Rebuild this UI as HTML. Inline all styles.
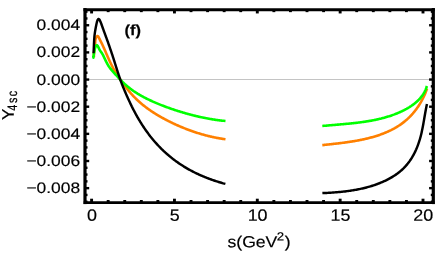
<!DOCTYPE html>
<html><head><meta charset="utf-8"><title>plot</title>
<style>
html,body{margin:0;padding:0;background:#fff;}
body{width:436px;height:262px;overflow:hidden;}
svg{display:block;will-change:transform;}
text{font-family:"Liberation Sans",sans-serif;fill:#000;stroke:#000;stroke-width:0.18px;}
</style></head><body>
<svg width="436" height="262" viewBox="0 0 436 262">
<rect width="436" height="262" fill="#fff"/>
<line x1="85.0" y1="79.5" x2="433.3" y2="79.5" stroke="#c4c4c4" stroke-width="1"/>
<g fill="none" stroke-width="2.6" stroke-linecap="square" stroke-linejoin="round">
<path stroke="#ff8000" d="M93.90,56.00 L93.90,55.28 L93.92,54.55 L93.96,53.81 L94.02,53.07 L94.10,52.32 L94.19,51.57 L94.29,50.81 L94.39,50.06 L94.50,49.30 L94.61,48.54 L94.72,47.79 L94.82,47.04 L94.92,46.29 L95.01,45.55 L95.08,44.81 L95.14,44.09 L95.19,43.37 L95.21,42.66 L95.22,41.96 L95.24,41.26 L95.29,40.54 L95.39,39.80 L95.57,39.02 L95.84,38.20 L96.22,37.35 L96.66,36.62 L97.15,36.12 L97.64,36.02 L98.10,36.34 L98.55,36.97 L98.96,37.78 L99.36,38.63 L99.74,39.42 L100.09,40.15 L100.43,40.83 L100.76,41.47 L101.08,42.09 L101.39,42.69 L101.70,43.29 L102.00,43.91 L102.31,44.53 L102.61,45.18 L102.92,45.83 L103.22,46.49 L103.53,47.17 L103.84,47.85 L104.14,48.54 L104.44,49.23 L104.75,49.93 L105.05,50.63 L105.36,51.34 L105.66,52.05 L105.96,52.75 L106.27,53.46 L106.57,54.16 L106.87,54.86 L107.18,55.56 L107.48,56.26 L107.78,56.95 L108.09,57.64 L108.39,58.32 L108.70,59.00 L109.00,59.68 L109.31,60.36 L109.63,61.03 L109.94,61.71 L110.26,62.38 L110.58,63.04 L110.90,63.71 L111.23,64.37 L111.56,65.03 L111.89,65.69 L112.23,66.35 L112.57,67.00 L112.92,67.66 L113.28,68.31 L113.63,68.96 L114.00,69.60 L114.36,70.25 L114.74,70.89 L115.11,71.54 L115.49,72.18 L115.88,72.82 L116.27,73.45 L116.66,74.09 L117.06,74.72 L117.46,75.35 L117.86,75.98 L118.27,76.61 L118.68,77.24 L119.09,77.86 L119.51,78.48 L119.93,79.10 L120.35,79.72 L120.77,80.34 L121.20,80.95 L121.63,81.56 L122.06,82.17 L122.49,82.78 L122.93,83.38 L123.37,83.99 L123.81,84.59 L124.25,85.18 L124.70,85.78 L125.15,86.37 L125.61,86.97 L126.06,87.55 L126.52,88.14 L126.99,88.73 L127.45,89.31 L127.92,89.89 L128.40,90.46 L128.87,91.04 L129.35,91.61 L129.84,92.17 L130.32,92.74 L130.81,93.30 L131.31,93.86 L131.81,94.41 L132.31,94.97 L132.82,95.51 L133.33,96.06 L133.84,96.60 L134.36,97.14 L134.88,97.67 L135.41,98.20 L135.94,98.72 L136.47,99.24 L137.01,99.76 L137.56,100.27 L138.10,100.78 L138.66,101.28 L139.21,101.78 L139.77,102.27 L140.33,102.76 L140.90,103.25 L141.47,103.73 L142.04,104.21 L142.62,104.68 L143.20,105.15 L143.78,105.62 L144.36,106.08 L144.95,106.54 L145.55,106.99 L146.14,107.44 L146.74,107.89 L147.34,108.33 L147.94,108.77 L148.55,109.20 L149.16,109.63 L149.77,110.06 L150.38,110.48 L151.00,110.91 L151.62,111.32 L152.24,111.74 L152.86,112.15 L153.49,112.55 L154.11,112.95 L154.74,113.35 L155.37,113.75 L156.01,114.14 L156.64,114.53 L157.28,114.92 L157.92,115.30 L158.56,115.68 L159.21,116.06 L159.85,116.44 L160.50,116.81 L161.15,117.18 L161.80,117.54 L162.45,117.90 L163.10,118.26 L163.76,118.62 L164.41,118.98 L165.07,119.33 L165.73,119.68 L166.39,120.02 L167.05,120.36 L167.72,120.71 L168.38,121.04 L169.05,121.38 L169.71,121.71 L170.38,122.04 L171.05,122.37 L171.72,122.69 L172.40,123.02 L173.07,123.34 L173.75,123.65 L174.42,123.97 L175.10,124.28 L175.78,124.59 L176.46,124.90 L177.14,125.20 L177.82,125.50 L178.50,125.80 L179.19,126.10 L179.87,126.39 L180.56,126.68 L181.25,126.97 L181.93,127.26 L182.62,127.54 L183.31,127.83 L184.01,128.10 L184.70,128.38 L185.39,128.65 L186.09,128.93 L186.78,129.19 L187.48,129.46 L188.18,129.72 L188.88,129.98 L189.58,130.24 L190.28,130.50 L190.98,130.75 L191.68,131.00 L192.39,131.25 L193.09,131.49 L193.80,131.73 L194.50,131.97 L195.21,132.21 L195.92,132.44 L196.63,132.67 L197.34,132.90 L198.05,133.12 L198.76,133.34 L199.47,133.56 L200.19,133.78 L200.90,133.99 L201.62,134.20 L202.33,134.41 L203.05,134.61 L203.77,134.81 L204.49,135.01 L205.21,135.20 L205.93,135.39 L206.65,135.58 L207.38,135.76 L208.10,135.94 L208.82,136.12 L209.55,136.30 L210.27,136.47 L211.00,136.64 L211.73,136.80 L212.46,136.96 L213.19,137.12 L213.91,137.28 L214.64,137.43 L215.38,137.57 L216.11,137.72 L216.84,137.86 L217.57,137.99 L218.31,138.13 L219.04,138.26 L219.78,138.38 L220.51,138.51 L221.25,138.62 L221.99,138.74 L222.72,138.85 L223.46,138.96 L224.20,139.06"/>
<path stroke="#ff8000" d="M323.60,145.00 L324.42,144.91 L325.24,144.82 L326.07,144.73 L326.89,144.64 L327.72,144.55 L328.54,144.46 L329.37,144.37 L330.20,144.28 L331.02,144.19 L331.85,144.10 L332.68,144.01 L333.51,143.91 L334.34,143.82 L335.17,143.73 L336.00,143.63 L336.83,143.53 L337.66,143.44 L338.49,143.34 L339.32,143.24 L340.15,143.14 L340.99,143.04 L341.82,142.93 L342.65,142.83 L343.48,142.72 L344.31,142.61 L345.15,142.50 L345.98,142.38 L346.81,142.27 L347.64,142.15 L348.47,142.03 L349.30,141.91 L350.13,141.78 L350.96,141.66 L351.79,141.53 L352.62,141.39 L353.45,141.26 L354.28,141.12 L355.11,140.98 L355.94,140.83 L356.77,140.69 L357.59,140.54 L358.42,140.38 L359.24,140.22 L360.07,140.06 L360.89,139.90 L361.71,139.73 L362.54,139.56 L363.36,139.38 L364.18,139.20 L365.00,139.02 L365.82,138.83 L366.63,138.64 L367.45,138.44 L368.27,138.24 L369.08,138.03 L369.89,137.82 L370.70,137.60 L371.52,137.38 L372.32,137.16 L373.13,136.93 L373.94,136.69 L374.74,136.45 L375.55,136.21 L376.35,135.96 L377.15,135.70 L377.95,135.44 L378.75,135.17 L379.54,134.90 L380.33,134.62 L381.12,134.34 L381.91,134.05 L382.70,133.75 L383.48,133.45 L384.26,133.14 L385.04,132.82 L385.81,132.50 L386.58,132.17 L387.35,131.84 L388.11,131.50 L388.87,131.15 L389.63,130.80 L390.38,130.43 L391.13,130.07 L391.87,129.69 L392.61,129.31 L393.35,128.92 L394.08,128.52 L394.81,128.12 L395.53,127.70 L396.25,127.28 L396.96,126.86 L397.67,126.42 L398.37,125.98 L399.07,125.53 L399.76,125.07 L400.44,124.60 L401.12,124.13 L401.79,123.64 L402.46,123.15 L403.12,122.65 L403.78,122.14 L404.43,121.62 L405.07,121.10 L405.70,120.56 L406.33,120.02 L406.96,119.47 L407.57,118.91 L408.18,118.34 L408.78,117.76 L409.38,117.18 L409.96,116.59 L410.55,115.99 L411.12,115.39 L411.69,114.77 L412.25,114.15 L412.80,113.53 L413.34,112.89 L413.88,112.25 L414.41,111.60 L414.93,110.95 L415.45,110.29 L415.96,109.62 L416.46,108.95 L416.95,108.27 L417.43,107.59 L417.91,106.90 L418.38,106.20 L418.84,105.50 L419.29,104.79 L419.74,104.08 L420.18,103.36 L420.60,102.64 L421.03,101.92 L421.44,101.18 L421.84,100.45 L422.24,99.71 L422.63,98.97 L423.00,98.22 L423.38,97.47 L423.74,96.71 L424.09,95.96 L424.44,95.20 L424.77,94.43 L425.10,93.67 L425.42,92.90 L425.73,92.13 L426.03,91.35 L426.32,90.58 L426.60,89.80"/>
<path stroke="#00ff00" d="M93.40,57.50 L93.39,57.61 L93.39,57.50 L93.43,57.20 L93.49,56.73 L93.56,56.12 L93.66,55.38 L93.79,54.54 L93.93,53.63 L94.09,52.67 L94.26,51.67 L94.46,50.67 L94.67,49.68 L94.90,48.74 L95.14,47.86 L95.40,47.06 L95.67,46.38 L95.95,45.83 L96.25,45.44 L96.55,45.23 L96.87,45.22 L97.19,45.42 L97.53,45.79 L97.87,46.31 L98.21,46.94 L98.57,47.63 L98.92,48.36 L99.28,49.09 L99.65,49.77 L100.01,50.40 L100.38,50.98 L100.74,51.53 L101.10,52.05 L101.45,52.56 L101.79,53.06 L102.13,53.57 L102.46,54.09 L102.77,54.64 L103.07,55.22 L103.37,55.80 L103.66,56.40 L103.94,56.99 L104.23,57.59 L104.51,58.19 L104.79,58.79 L105.07,59.38 L105.35,59.98 L105.64,60.57 L105.92,61.16 L106.21,61.74 L106.51,62.32 L106.81,62.90 L107.11,63.47 L107.42,64.04 L107.74,64.61 L108.06,65.16 L108.40,65.72 L108.74,66.26 L109.10,66.80 L109.46,67.33 L109.84,67.86 L110.23,68.37 L110.63,68.88 L111.04,69.38 L111.46,69.88 L111.89,70.38 L112.32,70.87 L112.75,71.35 L113.19,71.84 L113.62,72.33 L114.06,72.81 L114.49,73.30 L114.93,73.78 L115.36,74.27 L115.80,74.75 L116.23,75.24 L116.67,75.72 L117.10,76.20 L117.54,76.69 L117.98,77.17 L118.42,77.64 L118.86,78.12 L119.30,78.60 L119.75,79.07 L120.19,79.54 L120.65,80.01 L121.10,80.47 L121.56,80.94 L122.02,81.40 L122.48,81.86 L122.94,82.31 L123.41,82.76 L123.89,83.21 L124.36,83.66 L124.84,84.10 L125.32,84.54 L125.81,84.97 L126.30,85.40 L126.79,85.83 L127.28,86.25 L127.78,86.67 L128.29,87.08 L128.79,87.49 L129.30,87.89 L129.82,88.29 L130.33,88.69 L130.85,89.08 L131.38,89.47 L131.90,89.85 L132.43,90.23 L132.96,90.60 L133.50,90.98 L134.04,91.34 L134.58,91.71 L135.12,92.06 L135.66,92.42 L136.21,92.77 L136.76,93.12 L137.31,93.46 L137.87,93.81 L138.43,94.14 L138.98,94.48 L139.54,94.81 L140.11,95.13 L140.67,95.46 L141.24,95.78 L141.81,96.10 L142.38,96.41 L142.95,96.72 L143.52,97.03 L144.10,97.33 L144.67,97.63 L145.25,97.93 L145.83,98.23 L146.41,98.52 L146.99,98.81 L147.58,99.10 L148.16,99.39 L148.75,99.67 L149.33,99.95 L149.92,100.23 L150.51,100.50 L151.10,100.78 L151.69,101.05 L152.29,101.32 L152.88,101.58 L153.47,101.85 L154.07,102.11 L154.67,102.37 L155.26,102.63 L155.86,102.88 L156.46,103.14 L157.06,103.39 L157.66,103.64 L158.26,103.89 L158.87,104.13 L159.47,104.38 L160.07,104.62 L160.68,104.86 L161.28,105.10 L161.89,105.34 L162.49,105.58 L163.10,105.81 L163.71,106.04 L164.32,106.27 L164.92,106.50 L165.53,106.73 L166.14,106.96 L166.76,107.18 L167.37,107.40 L167.98,107.62 L168.59,107.84 L169.20,108.06 L169.82,108.28 L170.43,108.50 L171.05,108.71 L171.66,108.92 L172.28,109.13 L172.89,109.34 L173.51,109.55 L174.13,109.76 L174.74,109.96 L175.36,110.16 L175.98,110.37 L176.60,110.57 L177.22,110.76 L177.84,110.96 L178.46,111.16 L179.08,111.35 L179.70,111.55 L180.32,111.74 L180.94,111.93 L181.57,112.11 L182.19,112.30 L182.81,112.49 L183.44,112.67 L184.06,112.85 L184.69,113.03 L185.31,113.21 L185.94,113.39 L186.57,113.57 L187.19,113.74 L187.82,113.92 L188.45,114.09 L189.07,114.26 L189.70,114.43 L190.33,114.59 L190.96,114.76 L191.59,114.92 L192.22,115.08 L192.85,115.24 L193.48,115.40 L194.11,115.56 L194.75,115.72 L195.38,115.87 L196.01,116.02 L196.64,116.17 L197.28,116.32 L197.91,116.47 L198.54,116.61 L199.18,116.76 L199.81,116.90 L200.45,117.04 L201.09,117.18 L201.72,117.31 L202.36,117.45 L202.99,117.58 L203.63,117.71 L204.27,117.84 L204.91,117.97 L205.55,118.09 L206.18,118.22 L206.82,118.34 L207.46,118.46 L208.10,118.58 L208.74,118.69 L209.38,118.81 L210.02,118.92 L210.67,119.03 L211.31,119.14 L211.95,119.25 L212.59,119.35 L213.23,119.45 L213.88,119.55 L214.52,119.65 L215.16,119.75 L215.81,119.84 L216.45,119.94 L217.09,120.03 L217.74,120.12 L218.38,120.20 L219.03,120.29 L219.67,120.37 L220.32,120.45 L220.97,120.53 L221.61,120.60 L222.26,120.68 L222.91,120.75 L223.55,120.82 L224.20,120.88"/>
<path stroke="#00ff00" d="M323.60,125.90 L324.37,125.83 L325.13,125.75 L325.90,125.68 L326.66,125.61 L327.43,125.54 L328.20,125.47 L328.97,125.40 L329.74,125.33 L330.51,125.26 L331.28,125.19 L332.05,125.12 L332.82,125.06 L333.59,124.99 L334.36,124.92 L335.13,124.86 L335.91,124.79 L336.68,124.72 L337.45,124.66 L338.22,124.59 L339.00,124.52 L339.77,124.46 L340.55,124.39 L341.32,124.32 L342.09,124.25 L342.87,124.18 L343.64,124.11 L344.42,124.04 L345.19,123.97 L345.97,123.90 L346.74,123.83 L347.52,123.75 L348.29,123.68 L349.07,123.60 L349.84,123.53 L350.62,123.45 L351.39,123.37 L352.16,123.29 L352.94,123.21 L353.71,123.12 L354.49,123.04 L355.26,122.95 L356.03,122.86 L356.80,122.77 L357.58,122.68 L358.35,122.58 L359.12,122.48 L359.89,122.39 L360.66,122.28 L361.43,122.18 L362.20,122.07 L362.97,121.97 L363.74,121.86 L364.51,121.74 L365.28,121.63 L366.04,121.51 L366.81,121.39 L367.58,121.26 L368.34,121.14 L369.11,121.01 L369.87,120.88 L370.63,120.74 L371.40,120.60 L372.16,120.46 L372.92,120.31 L373.68,120.16 L374.44,120.01 L375.20,119.86 L375.95,119.70 L376.71,119.53 L377.46,119.37 L378.22,119.20 L378.97,119.02 L379.72,118.84 L380.48,118.66 L381.23,118.48 L381.97,118.28 L382.72,118.09 L383.47,117.89 L384.22,117.69 L384.96,117.48 L385.70,117.27 L386.45,117.05 L387.19,116.83 L387.93,116.60 L388.66,116.37 L389.40,116.14 L390.14,115.90 L390.87,115.65 L391.60,115.40 L392.33,115.14 L393.06,114.88 L393.79,114.62 L394.52,114.34 L395.25,114.07 L395.97,113.78 L396.69,113.50 L397.41,113.20 L398.13,112.90 L398.85,112.60 L399.56,112.29 L400.28,111.97 L400.99,111.65 L401.69,111.32 L402.40,110.98 L403.10,110.64 L403.80,110.29 L404.49,109.93 L405.18,109.57 L405.87,109.20 L406.55,108.83 L407.22,108.44 L407.90,108.05 L408.56,107.65 L409.23,107.25 L409.88,106.84 L410.53,106.42 L411.18,105.99 L411.81,105.55 L412.44,105.11 L413.07,104.65 L413.69,104.19 L414.30,103.72 L414.90,103.24 L415.49,102.76 L416.08,102.26 L416.65,101.76 L417.22,101.24 L417.77,100.72 L418.32,100.18 L418.86,99.64 L419.38,99.09 L419.90,98.52 L420.40,97.95 L420.89,97.36 L421.36,96.77 L421.83,96.16 L422.28,95.54 L422.72,94.91 L423.14,94.27 L423.55,93.62 L423.94,92.96 L424.32,92.28 L424.68,91.59 L425.03,90.89 L425.36,90.18 L425.67,89.45 L425.96,88.72 L426.24,87.96 L426.50,87.20"/>
<path stroke="#000" stroke-width="2.45" d="M93.60,52.00 L93.67,50.58 L93.74,49.25 L93.79,48.00 L93.85,46.82 L93.90,45.71 L93.94,44.65 L93.98,43.66 L94.03,42.71 L94.07,41.81 L94.11,40.94 L94.16,40.10 L94.21,39.29 L94.26,38.50 L94.32,37.72 L94.39,36.94 L94.46,36.17 L94.54,35.39 L94.64,34.59 L94.74,33.78 L94.85,32.95 L94.98,32.08 L95.12,31.18 L95.28,30.24 L95.45,29.25 L95.64,28.20 L95.85,27.09 L96.08,25.92 L96.32,24.68 L96.59,23.43 L96.88,22.21 L97.20,21.11 L97.53,20.17 L97.89,19.46 L98.27,19.04 L98.68,18.97 L99.11,19.25 L99.56,19.84 L100.01,20.67 L100.47,21.69 L100.93,22.83 L101.37,24.03 L101.80,25.24 L102.21,26.40 L102.60,27.48 L102.96,28.50 L103.30,29.45 L103.63,30.37 L103.95,31.24 L104.26,32.08 L104.57,32.91 L104.87,33.73 L105.17,34.55 L105.47,35.37 L105.78,36.22 L106.09,37.07 L106.41,37.94 L106.73,38.82 L107.05,39.72 L107.37,40.62 L107.70,41.53 L108.03,42.45 L108.35,43.37 L108.68,44.30 L109.01,45.24 L109.34,46.18 L109.67,47.13 L110.00,48.08 L110.32,49.03 L110.65,49.98 L110.97,50.93 L111.29,51.88 L111.61,52.82 L111.92,53.77 L112.23,54.71 L112.54,55.65 L112.85,56.58 L113.15,57.52 L113.45,58.44 L113.74,59.37 L114.04,60.30 L114.33,61.22 L114.62,62.14 L114.91,63.06 L115.20,63.99 L115.49,64.91 L115.78,65.83 L116.07,66.75 L116.36,67.67 L116.65,68.59 L116.94,69.52 L117.23,70.44 L117.53,71.37 L117.83,72.29 L118.12,73.22 L118.43,74.15 L118.73,75.07 L119.04,75.99 L119.35,76.92 L119.67,77.84 L119.99,78.76 L120.31,79.68 L120.64,80.59 L120.97,81.51 L121.31,82.42 L121.66,83.33 L122.00,84.24 L122.36,85.15 L122.71,86.05 L123.07,86.95 L123.44,87.86 L123.81,88.76 L124.18,89.65 L124.56,90.55 L124.94,91.45 L125.32,92.34 L125.70,93.23 L126.09,94.12 L126.49,95.01 L126.88,95.90 L127.28,96.79 L127.68,97.68 L128.08,98.56 L128.48,99.45 L128.89,100.33 L129.30,101.21 L129.72,102.09 L130.13,102.97 L130.55,103.85 L130.97,104.73 L131.40,105.60 L131.82,106.48 L132.26,107.35 L132.69,108.22 L133.13,109.08 L133.58,109.95 L134.02,110.81 L134.47,111.67 L134.93,112.53 L135.39,113.39 L135.85,114.24 L136.32,115.10 L136.80,115.95 L137.28,116.79 L137.76,117.64 L138.25,118.48 L138.74,119.32 L139.24,120.15 L139.74,120.99 L140.25,121.82 L140.76,122.64 L141.28,123.47 L141.80,124.29 L142.33,125.11 L142.86,125.92 L143.39,126.73 L143.93,127.54 L144.48,128.35 L145.03,129.15 L145.59,129.95 L146.15,130.74 L146.71,131.53 L147.28,132.32 L147.86,133.10 L148.44,133.88 L149.03,134.66 L149.62,135.43 L150.21,136.20 L150.82,136.96 L151.42,137.72 L152.04,138.48 L152.65,139.23 L153.28,139.98 L153.90,140.72 L154.54,141.46 L155.18,142.19 L155.82,142.92 L156.47,143.65 L157.13,144.37 L157.79,145.08 L158.45,145.79 L159.12,146.50 L159.80,147.19 L160.48,147.89 L161.16,148.58 L161.86,149.26 L162.55,149.94 L163.25,150.62 L163.96,151.28 L164.67,151.95 L165.39,152.60 L166.11,153.25 L166.84,153.90 L167.57,154.54 L168.31,155.18 L169.05,155.80 L169.80,156.43 L170.55,157.04 L171.31,157.65 L172.07,158.26 L172.84,158.86 L173.61,159.45 L174.38,160.04 L175.16,160.62 L175.95,161.20 L176.73,161.76 L177.53,162.33 L178.33,162.88 L179.13,163.43 L179.93,163.98 L180.74,164.52 L181.56,165.05 L182.38,165.57 L183.20,166.09 L184.02,166.61 L184.85,167.11 L185.69,167.62 L186.53,168.11 L187.37,168.60 L188.21,169.08 L189.06,169.56 L189.91,170.03 L190.77,170.49 L191.62,170.95 L192.49,171.40 L193.35,171.84 L194.22,172.28 L195.09,172.72 L195.96,173.14 L196.84,173.56 L197.72,173.98 L198.60,174.39 L199.49,174.79 L200.37,175.19 L201.26,175.58 L202.16,175.97 L203.05,176.35 L203.95,176.72 L204.85,177.09 L205.75,177.45 L206.66,177.81 L207.56,178.16 L208.47,178.51 L209.38,178.85 L210.30,179.18 L211.21,179.51 L212.13,179.84 L213.05,180.15 L213.97,180.47 L214.89,180.78 L215.81,181.08 L216.74,181.38 L217.67,181.67 L218.60,181.96 L219.53,182.24 L220.46,182.52 L221.39,182.79 L222.33,183.06 L223.26,183.33 L224.20,183.58"/>
<path stroke="#000" stroke-width="2.45" d="M323.60,193.05 L324.62,193.01 L325.64,192.96 L326.67,192.91 L327.69,192.86 L328.71,192.80 L329.74,192.74 L330.76,192.68 L331.79,192.62 L332.81,192.55 L333.84,192.48 L334.87,192.40 L335.89,192.32 L336.92,192.24 L337.95,192.15 L338.97,192.06 L340.00,191.96 L341.03,191.86 L342.05,191.76 L343.08,191.65 L344.10,191.53 L345.13,191.41 L346.16,191.28 L347.18,191.15 L348.20,191.02 L349.23,190.87 L350.25,190.73 L351.27,190.57 L352.29,190.41 L353.31,190.25 L354.33,190.07 L355.35,189.89 L356.37,189.71 L357.39,189.51 L358.40,189.31 L359.42,189.11 L360.43,188.89 L361.44,188.67 L362.45,188.44 L363.46,188.21 L364.47,187.96 L365.47,187.71 L366.48,187.45 L367.48,187.18 L368.48,186.90 L369.48,186.62 L370.48,186.32 L371.47,186.02 L372.46,185.71 L373.45,185.39 L374.44,185.06 L375.43,184.72 L376.41,184.37 L377.40,184.01 L378.37,183.64 L379.35,183.27 L380.32,182.88 L381.29,182.48 L382.25,182.07 L383.21,181.65 L384.16,181.22 L385.11,180.78 L386.05,180.33 L386.98,179.87 L387.91,179.40 L388.83,178.91 L389.74,178.42 L390.64,177.91 L391.54,177.39 L392.43,176.86 L393.30,176.32 L394.17,175.77 L395.03,175.20 L395.88,174.62 L396.72,174.03 L397.54,173.43 L398.36,172.81 L399.16,172.18 L399.96,171.54 L400.74,170.88 L401.50,170.21 L402.26,169.53 L403.00,168.83 L403.72,168.13 L404.43,167.40 L405.13,166.67 L405.81,165.92 L406.48,165.15 L407.13,164.37 L407.77,163.59 L408.40,162.78 L409.01,161.97 L409.61,161.15 L410.19,160.31 L410.76,159.46 L411.31,158.60 L411.86,157.74 L412.39,156.86 L412.90,155.97 L413.40,155.07 L413.89,154.17 L414.37,153.25 L414.83,152.33 L415.28,151.40 L415.72,150.46 L416.15,149.52 L416.56,148.56 L416.96,147.60 L417.35,146.64 L417.72,145.67 L418.09,144.69 L418.44,143.71 L418.78,142.72 L419.11,141.73 L419.42,140.74 L419.73,139.74 L420.02,138.73 L420.30,137.73 L420.58,136.72 L420.84,135.70 L421.09,134.69 L421.34,133.67 L421.57,132.65 L421.80,131.63 L422.02,130.61 L422.24,129.58 L422.45,128.56 L422.65,127.53 L422.85,126.50 L423.04,125.48 L423.23,124.45 L423.41,123.42 L423.59,122.40 L423.77,121.37 L423.95,120.35 L424.13,119.33 L424.30,118.31 L424.47,117.29 L424.65,116.27 L424.82,115.26 L425.00,114.24 L425.17,113.23 L425.35,112.23 L425.53,111.23 L425.72,110.23 L425.90,109.23 L426.10,108.24 L426.29,107.26 L426.49,106.28 L426.70,105.30"/>
</g>
<g stroke="#000" stroke-width="2.4">
<line x1="85.0" y1="201.72" x2="87.5" y2="201.72"/>
<line x1="433.3" y1="201.72" x2="430.8" y2="201.72"/>
<line x1="85.0" y1="194.94" x2="87.5" y2="194.94"/>
<line x1="433.3" y1="194.94" x2="430.8" y2="194.94"/>
<line x1="85.0" y1="188.15" x2="89.2" y2="188.15"/>
<line x1="433.3" y1="188.15" x2="429.1" y2="188.15"/>
<line x1="85.0" y1="181.36" x2="87.5" y2="181.36"/>
<line x1="433.3" y1="181.36" x2="430.8" y2="181.36"/>
<line x1="85.0" y1="174.57" x2="87.5" y2="174.57"/>
<line x1="433.3" y1="174.57" x2="430.8" y2="174.57"/>
<line x1="85.0" y1="167.79" x2="87.5" y2="167.79"/>
<line x1="433.3" y1="167.79" x2="430.8" y2="167.79"/>
<line x1="85.0" y1="161.00" x2="89.2" y2="161.00"/>
<line x1="433.3" y1="161.00" x2="429.1" y2="161.00"/>
<line x1="85.0" y1="154.21" x2="87.5" y2="154.21"/>
<line x1="433.3" y1="154.21" x2="430.8" y2="154.21"/>
<line x1="85.0" y1="147.43" x2="87.5" y2="147.43"/>
<line x1="433.3" y1="147.43" x2="430.8" y2="147.43"/>
<line x1="85.0" y1="140.64" x2="87.5" y2="140.64"/>
<line x1="433.3" y1="140.64" x2="430.8" y2="140.64"/>
<line x1="85.0" y1="133.85" x2="89.2" y2="133.85"/>
<line x1="433.3" y1="133.85" x2="429.1" y2="133.85"/>
<line x1="85.0" y1="127.06" x2="87.5" y2="127.06"/>
<line x1="433.3" y1="127.06" x2="430.8" y2="127.06"/>
<line x1="85.0" y1="120.27" x2="87.5" y2="120.27"/>
<line x1="433.3" y1="120.27" x2="430.8" y2="120.27"/>
<line x1="85.0" y1="113.49" x2="87.5" y2="113.49"/>
<line x1="433.3" y1="113.49" x2="430.8" y2="113.49"/>
<line x1="85.0" y1="106.70" x2="89.2" y2="106.70"/>
<line x1="433.3" y1="106.70" x2="429.1" y2="106.70"/>
<line x1="85.0" y1="99.91" x2="87.5" y2="99.91"/>
<line x1="433.3" y1="99.91" x2="430.8" y2="99.91"/>
<line x1="85.0" y1="93.12" x2="87.5" y2="93.12"/>
<line x1="433.3" y1="93.12" x2="430.8" y2="93.12"/>
<line x1="85.0" y1="86.34" x2="87.5" y2="86.34"/>
<line x1="433.3" y1="86.34" x2="430.8" y2="86.34"/>
<line x1="85.0" y1="79.55" x2="89.2" y2="79.55"/>
<line x1="433.3" y1="79.55" x2="429.1" y2="79.55"/>
<line x1="85.0" y1="72.76" x2="87.5" y2="72.76"/>
<line x1="433.3" y1="72.76" x2="430.8" y2="72.76"/>
<line x1="85.0" y1="65.97" x2="87.5" y2="65.97"/>
<line x1="433.3" y1="65.97" x2="430.8" y2="65.97"/>
<line x1="85.0" y1="59.19" x2="87.5" y2="59.19"/>
<line x1="433.3" y1="59.19" x2="430.8" y2="59.19"/>
<line x1="85.0" y1="52.40" x2="89.2" y2="52.40"/>
<line x1="433.3" y1="52.40" x2="429.1" y2="52.40"/>
<line x1="85.0" y1="45.61" x2="87.5" y2="45.61"/>
<line x1="433.3" y1="45.61" x2="430.8" y2="45.61"/>
<line x1="85.0" y1="38.83" x2="87.5" y2="38.83"/>
<line x1="433.3" y1="38.83" x2="430.8" y2="38.83"/>
<line x1="85.0" y1="32.04" x2="87.5" y2="32.04"/>
<line x1="433.3" y1="32.04" x2="430.8" y2="32.04"/>
<line x1="85.0" y1="25.25" x2="89.2" y2="25.25"/>
<line x1="433.3" y1="25.25" x2="429.1" y2="25.25"/>
<line x1="85.0" y1="18.46" x2="87.5" y2="18.46"/>
<line x1="433.3" y1="18.46" x2="430.8" y2="18.46"/>
<line x1="85.0" y1="11.67" x2="87.5" y2="11.67"/>
<line x1="433.3" y1="11.67" x2="430.8" y2="11.67"/>
</g>
<g stroke="#000" stroke-width="2.9">
<line x1="91.60" y1="202.5" x2="91.60" y2="198.7"/>
<line x1="91.60" y1="9.65" x2="91.60" y2="13.45"/>
<line x1="108.17" y1="202.5" x2="108.17" y2="200.0"/>
<line x1="108.17" y1="9.65" x2="108.17" y2="12.15"/>
<line x1="124.74" y1="202.5" x2="124.74" y2="200.0"/>
<line x1="124.74" y1="9.65" x2="124.74" y2="12.15"/>
<line x1="141.31" y1="202.5" x2="141.31" y2="200.0"/>
<line x1="141.31" y1="9.65" x2="141.31" y2="12.15"/>
<line x1="157.88" y1="202.5" x2="157.88" y2="200.0"/>
<line x1="157.88" y1="9.65" x2="157.88" y2="12.15"/>
<line x1="174.45" y1="202.5" x2="174.45" y2="198.7"/>
<line x1="174.45" y1="9.65" x2="174.45" y2="13.45"/>
<line x1="191.02" y1="202.5" x2="191.02" y2="200.0"/>
<line x1="191.02" y1="9.65" x2="191.02" y2="12.15"/>
<line x1="207.59" y1="202.5" x2="207.59" y2="200.0"/>
<line x1="207.59" y1="9.65" x2="207.59" y2="12.15"/>
<line x1="224.16" y1="202.5" x2="224.16" y2="200.0"/>
<line x1="224.16" y1="9.65" x2="224.16" y2="12.15"/>
<line x1="240.73" y1="202.5" x2="240.73" y2="200.0"/>
<line x1="240.73" y1="9.65" x2="240.73" y2="12.15"/>
<line x1="257.30" y1="202.5" x2="257.30" y2="198.7"/>
<line x1="257.30" y1="9.65" x2="257.30" y2="13.45"/>
<line x1="273.87" y1="202.5" x2="273.87" y2="200.0"/>
<line x1="273.87" y1="9.65" x2="273.87" y2="12.15"/>
<line x1="290.44" y1="202.5" x2="290.44" y2="200.0"/>
<line x1="290.44" y1="9.65" x2="290.44" y2="12.15"/>
<line x1="307.01" y1="202.5" x2="307.01" y2="200.0"/>
<line x1="307.01" y1="9.65" x2="307.01" y2="12.15"/>
<line x1="323.58" y1="202.5" x2="323.58" y2="200.0"/>
<line x1="323.58" y1="9.65" x2="323.58" y2="12.15"/>
<line x1="340.15" y1="202.5" x2="340.15" y2="198.7"/>
<line x1="340.15" y1="9.65" x2="340.15" y2="13.45"/>
<line x1="356.72" y1="202.5" x2="356.72" y2="200.0"/>
<line x1="356.72" y1="9.65" x2="356.72" y2="12.15"/>
<line x1="373.29" y1="202.5" x2="373.29" y2="200.0"/>
<line x1="373.29" y1="9.65" x2="373.29" y2="12.15"/>
<line x1="389.86" y1="202.5" x2="389.86" y2="200.0"/>
<line x1="389.86" y1="9.65" x2="389.86" y2="12.15"/>
<line x1="406.43" y1="202.5" x2="406.43" y2="200.0"/>
<line x1="406.43" y1="9.65" x2="406.43" y2="12.15"/>
<line x1="423.00" y1="202.5" x2="423.00" y2="198.7"/>
<line x1="423.00" y1="9.65" x2="423.00" y2="13.45"/>
</g>
<g stroke="#000" stroke-linecap="square">
<line x1="85.0" y1="9.65" x2="433.3" y2="9.65" stroke-width="3.0"/>
<line x1="85.0" y1="202.6" x2="433.3" y2="202.6" stroke-width="2.65"/>
<line x1="85.0" y1="9.65" x2="85.0" y2="202.5" stroke-width="3.2"/>
<line x1="433.3" y1="9.65" x2="433.3" y2="202.5" stroke-width="3.2"/>
</g>
<g font-size="16px">
<text transform="translate(80.1,30.25) scale(1.088,0.95) rotate(0.03)" text-anchor="end">0.004</text>
<text transform="translate(80.1,57.40) scale(1.088,0.95) rotate(0.03)" text-anchor="end">0.002</text>
<text transform="translate(80.1,84.55) scale(1.088,0.95) rotate(0.03)" text-anchor="end">0.000</text>
<text transform="translate(80.1,111.70) scale(1.088,0.95) rotate(0.03)" text-anchor="end">−0.002</text>
<text transform="translate(80.1,138.85) scale(1.088,0.95) rotate(0.03)" text-anchor="end">−0.004</text>
<text transform="translate(80.1,166.00) scale(1.088,0.95) rotate(0.03)" text-anchor="end">−0.006</text>
<text transform="translate(80.1,193.15) scale(1.088,0.95) rotate(0.03)" text-anchor="end">−0.008</text>
<text transform="translate(91.90,220.85) scale(1.085,1) rotate(0.03)" text-anchor="middle" font-size="16.5px">0</text>
<text transform="translate(174.75,220.85) scale(1.085,1) rotate(0.03)" text-anchor="middle" font-size="16.5px">5</text>
<text transform="translate(257.60,220.85) scale(1.085,1) rotate(0.03)" text-anchor="middle" font-size="16.5px">10</text>
<text transform="translate(340.45,220.85) scale(1.085,1) rotate(0.03)" text-anchor="middle" font-size="16.5px">15</text>
<text transform="translate(423.30,220.85) scale(1.085,1) rotate(0.03)" text-anchor="middle" font-size="16.5px">20</text>
</g>
<text transform="translate(124.5,35.2) scale(1.1,1) rotate(0.03)" font-size="15px" font-weight="bold">(f)</text>
<text transform="translate(13.75,120.1) scale(0.99,1) rotate(-90.03)" font-size="17px">Y</text>
<text transform="translate(17.0,110.8) scale(1.27,1) rotate(-90.03)" font-size="10.8px" stroke="#000" stroke-width="0.2" x="0 7.9 14.5">4sc</text>
<text transform="translate(227.5,247.2) scale(1.10,1) rotate(0.03)" font-size="16px">s(GeV<tspan font-size="12px" dx="-0.6" dy="-6.8">2</tspan><tspan dx="0.6" dy="6.8">)</tspan></text>
</svg>
</body></html>
